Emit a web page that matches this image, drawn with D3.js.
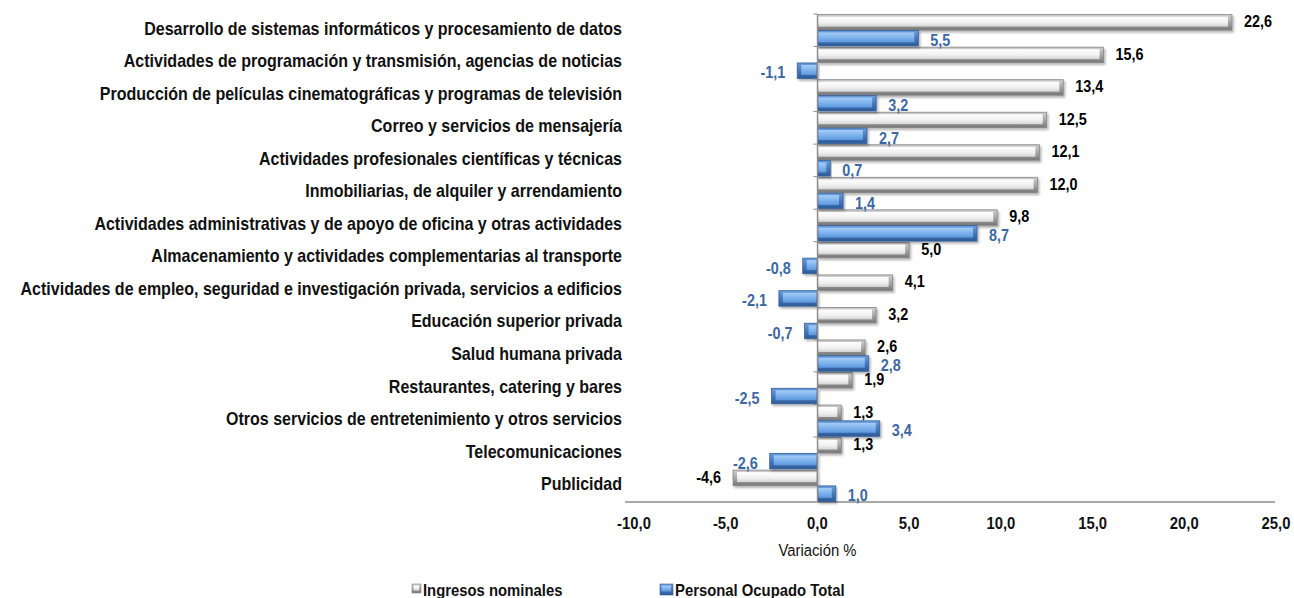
<!DOCTYPE html>
<html lang="es">
<head>
<meta charset="UTF-8">
<title>Variación %</title>
<script src="https://d3js.org/d3.v7.min.js"></script>
<style>
  body { margin: 0; background: #fff; }
  svg { font-family: "Liberation Sans", Arial, sans-serif; }
</style>
</head>
<body>
<script>
const categories = [
  "Desarrollo de sistemas informáticos y procesamiento de datos",
  "Actividades de programación y transmisión, agencias de noticias",
  "Producción de películas cinematográficas y programas de televisión",
  "Correo y servicios de mensajería",
  "Actividades profesionales científicas y técnicas",
  "Inmobiliarias, de alquiler y arrendamiento",
  "Actividades administrativas y de apoyo de oficina y otras actividades",
  "Almacenamiento y actividades complementarias al transporte",
  "Actividades de empleo, seguridad e investigación privada, servicios a edificios",
  "Educación superior privada",
  "Salud humana privada",
  "Restaurantes, catering y bares",
  "Otros servicios de entretenimiento y otros servicios",
  "Telecomunicaciones",
  "Publicidad"
];
const ingresos = [22.6, 15.6, 13.4, 12.5, 12.1, 12.0, 9.8, 5.0, 4.1, 3.2, 2.6, 1.9, 1.3, 1.3, -4.6];
const personal = [5.5, -1.1, 3.2, 2.7, 0.7, 1.4, 8.7, -0.8, -2.1, -0.7, 2.8, -2.5, 3.4, -2.6, 1.0];
const xTicks = [-10, -5, 0, 5, 10, 15, 20, 25];
const seriesNames = ["Ingresos nominales", "Personal Ocupado Total"];

const width = 1294, height = 598;
const svg = d3.select("body").append("svg")
  .attr("width", width).attr("height", height);

const loc = d3.formatLocale({decimal: ",", thousands: ".", grouping: [3], currency: ["", ""], minus: "-"});
const fmt = loc.format(".1f");

const x = d3.scaleLinear().domain([-10, 25]).range([634, 1276]);
const y = d3.scaleBand().domain(categories).range([14, 502]);
const sub = d3.scaleBand().domain([0, 1]).range([0, y.bandwidth()]).paddingInner(0.02).paddingOuter(0.04);

// condensed look: larger font squeezed horizontally
const SX = 0.9;
function narrowText(sel, px, py) {
  sel.attr("transform", (d, i) => `translate(${px(d, i)},${py(d, i)}) scale(${SX},1)`);
}

const defs = svg.append("defs");
function grad(id, stops) {
  const g = defs.append("linearGradient").attr("id", id)
    .attr("x1", 0).attr("y1", 0).attr("x2", 0).attr("y2", 1);
  stops.forEach(s => g.append("stop").attr("offset", s[0]).attr("stop-color", s[1]));
}
grad("gGrayOut", [[0, "#d0d0d0"], [0.5, "#a8a8a8"], [1, "#767676"]]);
grad("gGrayIn", [[0, "#ffffff"], [0.6, "#f0f0f0"], [1, "#d4d4d4"]]);
grad("gBlueOut", [[0, "#6b9ddb"], [0.5, "#4679bf"], [1, "#2c5a96"]]);
grad("gBlueIn", [[0, "#a6cdf7"], [0.5, "#80b4ee"], [1, "#5c97dc"]]);
const shadow = defs.append("filter").attr("id", "shadow")
  .attr("x", "-5%").attr("y", "-30%").attr("width", "115%").attr("height", "180%");
shadow.append("feDropShadow").attr("dx", 1.5).attr("dy", 2).attr("stdDeviation", 1.3)
  .attr("flood-color", "#000").attr("flood-opacity", 0.3);

// x axis line
svg.append("line").attr("x1", 625).attr("x2", 1275).attr("y1", 502).attr("y2", 502)
  .attr("stroke", "#8c8c8c").attr("stroke-width", 1.5);

const bars = [
  {vals: ingresos, k: 0, out: "url(#gGrayOut)", inn: "url(#gGrayIn)", stroke: "#858585", color: "#000"},
  {vals: personal, k: 1, out: "url(#gBlueOut)", inn: "url(#gBlueIn)", stroke: "#35609a", color: "#3b67a6"}
];

bars.forEach(s => {
  const g = svg.append("g");
  const bar = g.selectAll("g.bar").data(s.vals).join("g").attr("class", "bar")
    .attr("filter", "url(#shadow)");
  bar.append("rect")
    .attr("x", d => x(Math.min(0, d)))
    .attr("y", (d, i) => y(categories[i]) + sub(s.k))
    .attr("width", d => Math.abs(x(d) - x(0)))
    .attr("height", sub.bandwidth())
    .attr("fill", s.out)
    .attr("stroke", s.stroke)
    .attr("stroke-width", 0.8);
  // inner face (bevel)
  bar.append("rect")
    .attr("x", d => d >= 0 ? x(0) + 1 : x(d) + 4)
    .attr("y", (d, i) => y(categories[i]) + sub(s.k) + 2)
    .attr("width", d => Math.max(0, Math.abs(x(d) - x(0)) - 5))
    .attr("height", sub.bandwidth() - 5.5)
    .attr("fill", s.inn);
  g.selectAll("text").data(s.vals).join("text")
    .call(narrowText,
      d => d >= 0 ? x(d) + 12 : x(d) - 12,
      (d, i) => y(categories[i]) + sub(s.k) + sub.bandwidth() / 2 + (s.k === 0 ? -1 : 2))
    .attr("dy", "0.36em")
    .attr("text-anchor", d => d >= 0 ? "start" : "end")
    .attr("font-size", 16).attr("font-weight", "bold")
    .attr("fill", s.color)
    .text(d => fmt(d));
});

// y axis
const yAxis = svg.append("g");
yAxis.append("line").attr("x1", x(0)).attr("x2", x(0)).attr("y1", 14).attr("y2", 502)
  .attr("stroke", "#8c8c8c").attr("stroke-width", 1.2);
yAxis.selectAll("line.tick").data(categories).join("line").attr("class", "tick")
  .attr("x1", x(0) - 4).attr("x2", x(0)).attr("y1", d => y(d)).attr("y2", d => y(d))
  .attr("stroke", "#8c8c8c");

svg.append("g").selectAll("text").data(categories).join("text")
  .call(narrowText, () => 622, d => y(d) + y.bandwidth() / 2 - 2)
  .attr("dy", "0.36em")
  .attr("text-anchor", "end")
  .attr("font-size", 17.8).attr("font-weight", "bold").attr("fill", "#111")
  .text(d => d);

// x tick labels
svg.append("g").selectAll("text").data(xTicks).join("text")
  .call(narrowText, d => x(d), () => 523)
  .attr("dy", "0.36em")
  .attr("text-anchor", "middle")
  .attr("font-size", 16.5).attr("font-weight", "bold").attr("fill", "#111")
  .text(d => fmt(d));

svg.append("text")
  .attr("transform", `translate(${x(0)},550) scale(${SX},1)`)
  .attr("dy", "0.36em")
  .attr("text-anchor", "middle").attr("font-size", 16.5).attr("fill", "#111")
  .text("Variación %");

// legend
const legend = svg.append("g");
const lx = [412, 660];
const lw = [9, 13];
seriesNames.forEach((n, i) => {
  legend.append("rect").attr("x", lx[i]).attr("y", 584).attr("width", lw[i]).attr("height", i ? 11 : 9)
    .attr("fill", bars[i].out).attr("stroke", bars[i].stroke).attr("stroke-width", 0.6);
  legend.append("rect").attr("x", lx[i] + 1.5).attr("y", 585.5).attr("width", lw[i] - 3.5).attr("height", i ? 6 : 5)
    .attr("fill", bars[i].inn);
  legend.append("text")
    .attr("transform", `translate(${lx[i] + lw[i] + 2},590) scale(${SX},1)`)
    .attr("dy", "0.36em")
    .attr("font-size", 16.5).attr("font-weight", "bold").attr("fill", "#111").text(n);
});
</script>
</body>
</html>
